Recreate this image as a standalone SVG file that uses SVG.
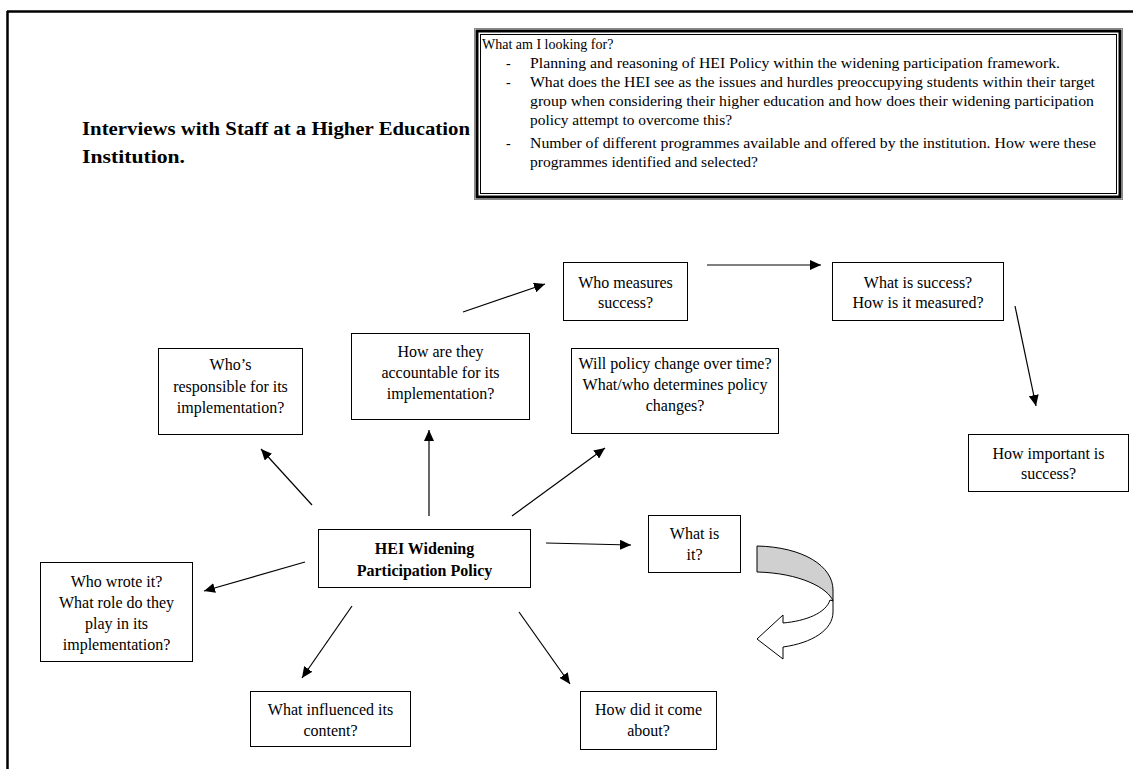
<svg xmlns="http://www.w3.org/2000/svg" width="1133" height="769" viewBox="0 0 1133 769">
  <style>
    .node rect { fill: #fff; stroke: #000; stroke-width: 1; }
    .node text { font-family: "Liberation Serif", "Times New Roman", serif; font-size: 16px; fill: #000; text-anchor: middle; }
    .node text.bold { font-weight: bold; }
    .title { font-family: "Liberation Serif", "Times New Roman", serif; font-size: 19px; font-weight: bold; fill: #000; }
    .note { font-family: "Liberation Serif", "Times New Roman", serif; font-size: 14px; fill: #000; }
    .conn line { stroke: #000; stroke-width: 1.2; marker-end: url(#head); }
  </style>
  <defs>
    <marker id="head" markerUnits="userSpaceOnUse" markerWidth="12" markerHeight="10" refX="11" refY="5" orient="auto">
      <path d="M0,0 L11,5 L0,10 Z" fill="#000"/>
    </marker>
  </defs>

  <rect x="0" y="0" width="1133" height="769" fill="#fff"/>

  <!-- page frame -->
  <g id="frame">
    <line x1="7" y1="11.5" x2="1133" y2="11.5" stroke="#000" stroke-width="2.5"/>
    <line x1="7.5" y1="11" x2="7.5" y2="769" stroke="#000" stroke-width="2.5"/>
  </g>

  <!-- heading -->
  <g id="title">
    <text class="title" x="82" y="135" textLength="388" lengthAdjust="spacingAndGlyphs">Interviews with Staff at a Higher Education</text>
    <text class="title" x="82" y="163" textLength="103" lengthAdjust="spacingAndGlyphs">Institution.</text>
  </g>

  <!-- triple-bordered note box -->
  <g id="note">
    <rect x="474.5" y="28.5" width="648" height="171" fill="#fff" stroke="#888" stroke-width="1"/>
    <rect x="477" y="31" width="643" height="166" fill="none" stroke="#000" stroke-width="3"/>
    <rect x="480.5" y="34.5" width="636" height="159" fill="none" stroke="#000" stroke-width="1"/>
    <text class="note" x="482" y="49">What am I looking for?</text>
    <text class="note" x="506" y="68">-</text>
    <text class="note" x="530" y="68" textLength="530" lengthAdjust="spacingAndGlyphs">Planning and reasoning of HEI Policy within the widening participation framework.</text>
    <text class="note" x="506" y="87">-</text>
    <text class="note" x="530" y="87" textLength="565" lengthAdjust="spacingAndGlyphs">What does the HEI see as the issues and hurdles preoccupying students within their target</text>
    <text class="note" x="530" y="106" textLength="564" lengthAdjust="spacingAndGlyphs">group when considering their higher education and how does their widening participation</text>
    <text class="note" x="530" y="125" textLength="202" lengthAdjust="spacingAndGlyphs">policy attempt to overcome this?</text>
    <text class="note" x="506" y="148">-</text>
    <text class="note" x="530" y="148" textLength="566" lengthAdjust="spacingAndGlyphs">Number of different programmes available and offered by the institution. How were these</text>
    <text class="note" x="530" y="167" textLength="228" lengthAdjust="spacingAndGlyphs">programmes identified and selected?</text>
  </g>

  <!-- connectors -->
  <g id="connectors" class="conn">
    <line x1="463" y1="312" x2="545" y2="284"/>
    <line x1="707" y1="265" x2="821" y2="265"/>
    <line x1="1015" y1="306" x2="1036" y2="406"/>
    <line x1="312" y1="505" x2="261" y2="449"/>
    <line x1="429" y1="516" x2="429" y2="430"/>
    <line x1="512" y1="516" x2="605" y2="448"/>
    <line x1="546" y1="543" x2="631" y2="545"/>
    <line x1="305" y1="562" x2="204" y2="591"/>
    <line x1="352" y1="606" x2="302" y2="678"/>
    <line x1="519" y1="612" x2="570" y2="684"/>
  </g>

  <!-- curled block arrow -->
  <g id="curl-arrow" stroke="#000" stroke-width="1" stroke-linejoin="round">
    <path d="M757,546 C803,547 833,566 833,590 L833,601 C828,588 800,573 757,572 Z" fill="#d0d0d0"/>
    <path d="M830,600 C826,613 806,621 783,623 L783,615 L757,639 L783,659 L783,647 C812,643 833,630 833,612 L833,601 Z" fill="#fff"/>
  </g>

  <!-- nodes -->
  <g id="n-who-measures" class="node">
    <rect x="563.5" y="262.5" width="124" height="58"/>
    <text x="625.5" y="288">Who measures</text>
    <text x="625.5" y="308">success?</text>
  </g>
  <g id="n-what-success" class="node">
    <rect x="832.5" y="262.5" width="171" height="58"/>
    <text x="918" y="288">What is success?</text>
    <text x="918" y="308">How is it measured?</text>
  </g>
  <g id="n-how-important" class="node">
    <rect x="968.5" y="434.5" width="160" height="57"/>
    <text x="1048.5" y="459">How important is</text>
    <text x="1048.5" y="479">success?</text>
  </g>
  <g id="n-responsible" class="node">
    <rect x="158.5" y="348.5" width="144" height="86"/>
    <text x="230.5" y="370">Who’s</text>
    <text x="230.5" y="392">responsible for its</text>
    <text x="230.5" y="413">implementation?</text>
  </g>
  <g id="n-accountable" class="node">
    <rect x="351.5" y="333.5" width="178" height="86"/>
    <text x="440.5" y="357">How are they</text>
    <text x="440.5" y="378">accountable for its</text>
    <text x="440.5" y="399">implementation?</text>
  </g>
  <g id="n-policy-change" class="node">
    <rect x="571.5" y="348.5" width="207" height="85"/>
    <text x="675" y="369">Will policy change over time?</text>
    <text x="675" y="390">What/who determines policy</text>
    <text x="675" y="411">changes?</text>
  </g>
  <g id="n-hei-policy" class="node">
    <rect x="318.5" y="529.5" width="212" height="58"/>
    <text class="bold" x="424.5" y="554">HEI Widening</text>
    <text class="bold" x="424.5" y="576">Participation Policy</text>
  </g>
  <g id="n-what-is-it" class="node">
    <rect x="648.5" y="515.5" width="92" height="57"/>
    <text x="694.5" y="539">What is</text>
    <text x="694.5" y="560">it?</text>
  </g>
  <g id="n-who-wrote" class="node">
    <rect x="40.5" y="562.5" width="152" height="99"/>
    <text x="116.5" y="587">Who wrote it?</text>
    <text x="116.5" y="608">What role do they</text>
    <text x="116.5" y="629">play in its</text>
    <text x="116.5" y="650">implementation?</text>
  </g>
  <g id="n-influenced" class="node">
    <rect x="250.5" y="691.5" width="160" height="55"/>
    <text x="330.5" y="715">What influenced its</text>
    <text x="330.5" y="736">content?</text>
  </g>
  <g id="n-come-about" class="node">
    <rect x="580.5" y="691.5" width="136" height="58"/>
    <text x="648.5" y="715">How did it come</text>
    <text x="648.5" y="736">about?</text>
  </g>
</svg>
